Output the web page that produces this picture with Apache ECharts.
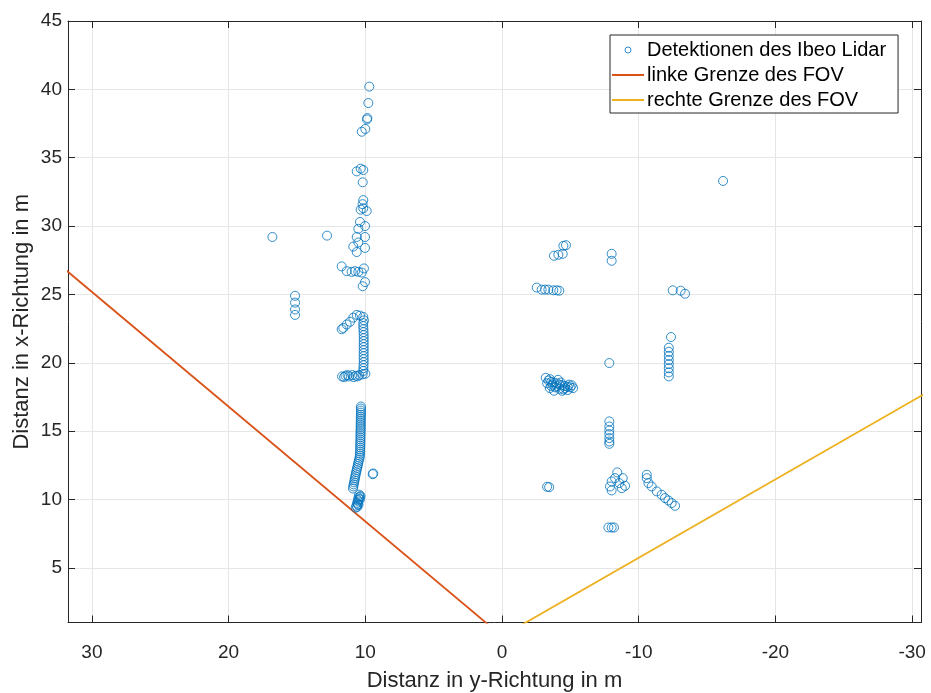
<!DOCTYPE html>
<html>
<head>
<meta charset="utf-8">
<title>Ibeo Lidar Detektionen</title>
<script src="https://cdn.jsdelivr.net/npm/echarts@6/dist/echarts.min.js"></script>
<style>
  html, body { margin: 0; padding: 0; background: #ffffff; }
  #chart { width: 931px; height: 693px; }
</style>
</head>
<body>
<div id="chart"></div>
<script>
// Lidar detections: [y-distance (m), x-distance (m)]
const detections = [
  // left row of objects near y = 10 m
  [9.71, 40.2], [9.78, 39.0], [9.85, 37.9], [9.88, 37.8], [10.0, 37.1], [10.26, 36.9],
  [10.34, 34.2], [10.63, 34.0], [10.15, 34.1], [10.19, 33.2],
  [10.15, 31.9], [10.2, 31.6], [10.34, 31.2], [10.15, 31.3], [9.9, 31.1],
  [10.39, 30.3], [10.02, 30.0], [10.51, 29.8], [10.02, 29.2], [10.63, 29.2],
  [10.51, 28.8], [10.88, 28.5], [10.02, 28.4], [10.63, 28.1],
  [16.8, 29.2], [12.8, 29.3],
  [11.73, 27.05], [11.36, 26.7], [11.0, 26.65], [10.75, 26.7], [10.51, 26.65], [10.26, 26.6], [10.1, 26.9],
  [10.02, 25.9], [10.19, 25.6],
  [15.14, 24.9], [15.14, 24.4], [15.14, 23.9], [15.14, 23.5],
  [10.63, 23.5], [10.88, 23.3], [11.12, 23.0], [11.36, 22.8], [11.61, 22.55], [11.73, 22.45],
  [10.39, 23.45], [10.15, 23.35], [10.1, 23.1],
  [10.15, 22.9], [10.15, 22.68], [10.14, 22.46], [10.13, 22.24], [10.12, 22.02], [10.12, 21.8], [10.12, 21.58],
  [10.12, 21.36], [10.12, 21.14], [10.12, 20.92], [10.12, 20.7], [10.12, 20.48], [10.12, 20.26], [10.12, 20.04],
  [10.13, 19.82], [10.14, 19.6], [10.15, 19.4],
  [11.7, 19.0], [11.45, 19.05], [11.2, 19.0], [10.95, 19.1], [10.7, 19.05], [10.45, 19.1], [10.2, 19.15], [10.0, 19.2],
  [11.55, 18.95], [11.3, 19.1], [10.85, 18.95], [10.55, 19.0],
  [10.32, 16.8], [10.32, 16.65], [10.32, 16.5], [10.32, 16.35], [10.32, 16.2], [10.33, 16.05], [10.33, 15.9],
  [10.33, 15.75], [10.34, 15.6], [10.34, 15.45], [10.34, 15.3], [10.34, 15.15], [10.35, 15.0], [10.35, 14.85],
  [10.35, 14.7], [10.36, 14.55], [10.36, 14.4], [10.36, 14.25], [10.37, 14.1], [10.37, 13.95], [10.37, 13.8],
  [10.38, 13.65], [10.38, 13.5], [10.39, 13.35], [10.4, 13.2],
  [10.42, 13.05], [10.46, 12.9], [10.5, 12.75], [10.53, 12.6], [10.56, 12.45], [10.6, 12.3], [10.63, 12.15],
  [10.67, 12.0], [10.7, 11.85], [10.73, 11.7], [10.76, 11.55], [10.79, 11.4], [10.82, 11.25], [10.85, 11.1],
  [10.88, 10.95], [10.9, 10.8],
  [10.45, 10.35], [10.4, 10.2], [10.5, 10.15], [10.45, 10.05], [10.55, 9.95], [10.5, 9.85], [10.6, 9.75],
  [10.55, 9.65], [10.65, 9.55], [10.6, 9.45], [10.7, 9.4], [10.35, 10.25], [10.4, 10.0], [10.5, 9.6],
  [9.46, 11.85], [9.42, 11.9],
  // right side objects
  [-4.68, 28.6], [-4.49, 28.55], [-3.80, 27.83], [-4.12, 27.9], [-4.44, 27.97],
  [-8.02, 27.97], [-8.02, 27.46],
  [-2.54, 25.5], [-2.9, 25.35], [-3.15, 25.35], [-3.39, 25.35], [-3.75, 25.3], [-4.0, 25.3], [-4.19, 25.27],
  [-12.49, 25.3], [-13.07, 25.27], [-13.39, 25.05],
  [-12.36, 21.88], [-12.2, 21.1], [-12.2, 20.8], [-12.2, 20.5], [-12.2, 20.2], [-12.2, 19.9], [-12.2, 19.6], [-12.2, 19.3], [-12.2, 19.0],
  [-7.85, 19.98],
  [-3.2, 18.9], [-3.4, 18.7], [-3.6, 18.6], [-3.8, 18.55], [-4.0, 18.5], [-4.2, 18.4], [-4.4, 18.35], [-4.6, 18.3],
  [-4.8, 18.25], [-5.0, 18.2], [-5.2, 18.15], [-3.3, 18.5], [-3.6, 18.3], [-3.9, 18.2], [-4.2, 18.1], [-4.5, 18.05],
  [-4.8, 18.0], [-3.8, 17.95], [-5.1, 18.35], [-4.1, 18.75],
  [-3.5, 18.8], [-3.7, 18.4], [-4.0, 18.3], [-4.3, 18.55], [-4.6, 18.15], [-4.9, 18.4], [-4.4, 17.95], [-3.5, 18.15],
  [-7.85, 15.71], [-7.85, 15.34], [-7.85, 15.05], [-7.85, 14.78], [-7.85, 14.49], [-7.85, 14.24], [-7.85, 14.07],
  [-8.43, 11.98], [-8.02, 11.32], [-7.9, 10.95], [-8.02, 10.66], [-8.83, 11.56], [-9.0, 11.0], [-8.76, 10.83], [-8.27, 11.56], [-8.58, 11.2],
  [-10.59, 11.81], [-10.59, 11.56], [-10.71, 11.2], [-10.95, 10.95], [-11.32, 10.59], [-11.68, 10.34],
  [-11.92, 10.1], [-12.17, 9.93], [-12.41, 9.74], [-12.66, 9.54],
  [-7.78, 7.95], [-8.02, 7.95], [-8.19, 7.95],
  [-3.3, 10.93], [-3.45, 10.9],
  [-16.17, 33.3]
];

// Field-of-view boundaries starting at the sensor origin
const leftFov = [[0, 0], [33, 27.7]];
const rightFov = [[0, 0], [-32, 18.35]];

// Axis ranges (metres)
const yDistRange = [-30.65, 31.75];
const xDistRange = [1, 45];

const seriesNames = ['Detektionen des Ibeo Lidar', 'linke Grenze des FOV', 'rechte Grenze des FOV'];

const FONT = 'Liberation Sans, Arial, Helvetica, sans-serif';
const INK = '#262626';
const GRID = '#e6e6e6';

const chart = echarts.init(document.getElementById('chart'), null, { renderer: 'canvas' });

const multipleOf = (step) => (v) => {
  const r = Math.round(v / step) * step;
  return Math.abs(v - r) < 1e-6 ? String(r) : '';
};

// top and right frame axes (ticks only)
const boxAxis = {
  axisLine: { show: true, onZero: false, lineStyle: { color: INK, width: 1 } },
  axisTick: { show: true, inside: true, length: 7, lineStyle: { color: INK } },
  axisLabel: { show: false },
  splitLine: { show: false }
};

chart.setOption({
  animation: false,
  backgroundColor: '#ffffff',
  textStyle: { fontFamily: FONT },
  grid: { left: 68, right: 10, top: 21, bottom: 70.5, containLabel: false, outerBoundsMode: 'none' },
  legend: {
    orient: 'vertical',
    left: 610,
    top: 35,
    padding: [5, 12, 3, 2],
    itemGap: 5,
    itemWidth: 32,
    itemHeight: 6,
    backgroundColor: '#ffffff',
    borderColor: INK,
    borderWidth: 1,
    borderRadius: 0,
    textStyle: { fontSize: 20, color: '#000000', fontFamily: FONT, padding: [0, 0, 0, -2] },
    data: [
      { name: seriesNames[0], icon: 'circle', itemStyle: { color: 'rgba(0,0,0,0)', borderColor: '#0072BD', borderWidth: 1 } },
      { name: seriesNames[1], icon: 'path://M0,0 L32,0 L32,2 L0,2 Z', itemStyle: { color: '#D95319', borderWidth: 0 } },
      { name: seriesNames[2], icon: 'path://M0,0 L32,0 L32,2 L0,2 Z', itemStyle: { color: '#EDB120', borderWidth: 0 } }
    ]
  },
  xAxis: [
    {
      type: 'value',
      inverse: true,
      min: yDistRange[0],
      max: yDistRange[1],
      splitNumber: 6,
      name: 'Distanz in y-Richtung in m',
      nameLocation: 'middle',
      nameGap: 47,
      nameMoveOverlap: false,
      nameTextStyle: { fontSize: 22, color: INK, fontFamily: FONT },
      axisLine: { show: true, onZero: false, lineStyle: { color: INK, width: 1 } },
      axisTick: { show: true, inside: true, length: 7, lineStyle: { color: INK } },
      axisLabel: { fontSize: 19, color: INK, margin: 21, formatter: multipleOf(10) },
      splitLine: { show: true, showMinLine: false, showMaxLine: false, lineStyle: { color: GRID, width: 1 } }
    },
    Object.assign({ type: 'value', position: 'top', inverse: true, min: yDistRange[0], max: yDistRange[1], splitNumber: 6 }, boxAxis)
  ],
  yAxis: [
    {
      type: 'value',
      min: xDistRange[0],
      max: xDistRange[1],
      splitNumber: 9,
      name: 'Distanz in x-Richtung in m',
      nameLocation: 'middle',
      nameGap: 35,
      nameMoveOverlap: false,
      nameTextStyle: { fontSize: 22, color: INK, fontFamily: FONT },
      axisLine: { show: true, onZero: false, lineStyle: { color: INK, width: 1 } },
      axisTick: { show: true, inside: true, length: 7, lineStyle: { color: INK } },
      axisLabel: { fontSize: 19, color: INK, margin: 6, formatter: multipleOf(5) },
      splitLine: { show: true, showMinLine: false, showMaxLine: false, lineStyle: { color: GRID, width: 1 } }
    },
    Object.assign({ type: 'value', position: 'right', min: xDistRange[0], max: xDistRange[1], splitNumber: 9 }, boxAxis)
  ],
  series: [
    {
      name: seriesNames[0],
      type: 'scatter',
      data: detections,
      symbol: 'circle',
      symbolSize: 9,
      itemStyle: { color: 'rgba(0,0,0,0)', borderColor: '#0072BD', borderWidth: 1 },
      emphasis: { disabled: true },
      z: 3
    },
    {
      name: seriesNames[1],
      type: 'line',
      data: leftFov,
      symbol: 'none',
      clip: true,
      lineStyle: { color: '#D95319', width: 1.8 },
      itemStyle: { color: '#D95319' },
      z: 2
    },
    {
      name: seriesNames[2],
      type: 'line',
      data: rightFov,
      symbol: 'none',
      clip: true,
      lineStyle: { color: '#EDB120', width: 1.8 },
      itemStyle: { color: '#EDB120' },
      z: 2
    }
  ]
});
</script>
</body>
</html>
